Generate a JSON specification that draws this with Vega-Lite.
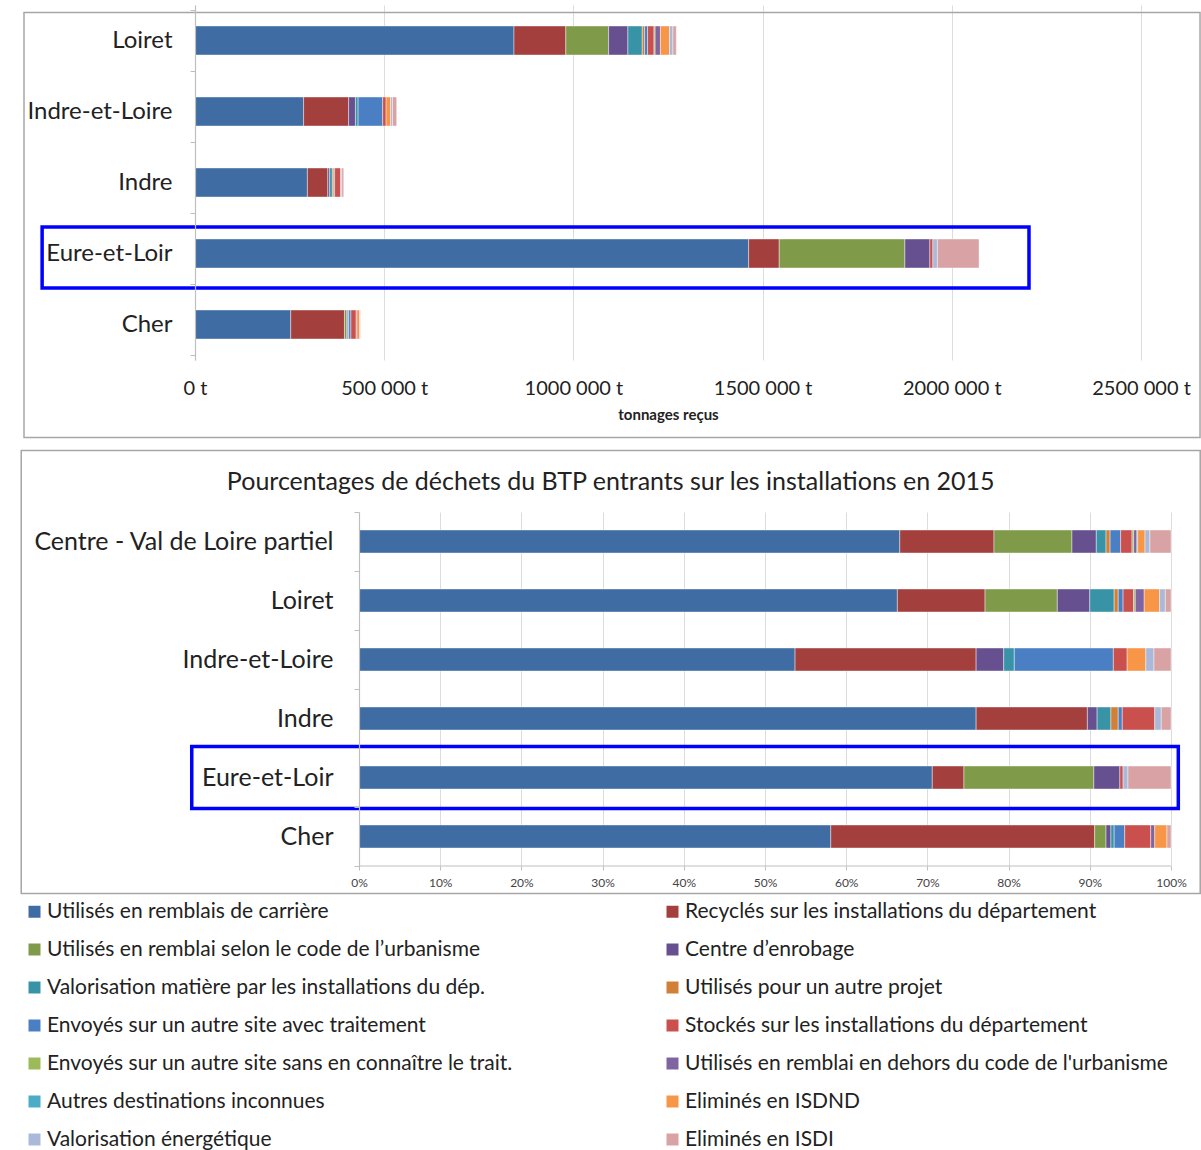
{
  "$schema": "https://vega.github.io/schema/vega-lite/v6.json",
  "background": "white",
  "padding": {"left": 20, "top": -7, "right": 2, "bottom": 4},
  "config": {
    "font": "Lato",
    "view": {"stroke": null},
    "axis": {"labelColor": "#222222", "titleColor": "#222222", "domainColor": "#bfbfbf", "tickColor": "#bfbfbf", "gridColor": "#dcdcdc"}
  },
  "datasets": {
    "tonnages": [
      {"departement": "Loiret", "categorie": "Utilisés en remblais de carrière", "tonnage": 843000},
      {"departement": "Loiret", "categorie": "Recyclés sur les installations du département", "tonnage": 137000},
      {"departement": "Loiret", "categorie": "Utilisés en remblai selon le code de l’urbanisme", "tonnage": 113000},
      {"departement": "Loiret", "categorie": "Centre d’enrobage", "tonnage": 51000},
      {"departement": "Loiret", "categorie": "Valorisation matière par les installations du dép.", "tonnage": 38000},
      {"departement": "Loiret", "categorie": "Utilisés pour un autre projet", "tonnage": 6000},
      {"departement": "Loiret", "categorie": "Envoyés sur un autre site avec traitement", "tonnage": 8000},
      {"departement": "Loiret", "categorie": "Stockés sur les installations du département", "tonnage": 17000},
      {"departement": "Loiret", "categorie": "Envoyés sur un autre site sans en connaître le trait.", "tonnage": 3000},
      {"departement": "Loiret", "categorie": "Utilisés en remblai en dehors du code de l'urbanisme", "tonnage": 14000},
      {"departement": "Loiret", "categorie": "Eliminés en ISDND", "tonnage": 24000},
      {"departement": "Loiret", "categorie": "Valorisation énergétique", "tonnage": 9000},
      {"departement": "Loiret", "categorie": "Eliminés en ISDI", "tonnage": 9000},
      {"departement": "Indre-et-Loire", "categorie": "Utilisés en remblais de carrière", "tonnage": 287000},
      {"departement": "Indre-et-Loire", "categorie": "Recyclés sur les installations du département", "tonnage": 119000},
      {"departement": "Indre-et-Loire", "categorie": "Centre d’enrobage", "tonnage": 18000},
      {"departement": "Indre-et-Loire", "categorie": "Valorisation matière par les installations du dép.", "tonnage": 7000},
      {"departement": "Indre-et-Loire", "categorie": "Envoyés sur un autre site avec traitement", "tonnage": 65000},
      {"departement": "Indre-et-Loire", "categorie": "Stockés sur les installations du département", "tonnage": 9000},
      {"departement": "Indre-et-Loire", "categorie": "Eliminés en ISDND", "tonnage": 12000},
      {"departement": "Indre-et-Loire", "categorie": "Valorisation énergétique", "tonnage": 5000},
      {"departement": "Indre-et-Loire", "categorie": "Eliminés en ISDI", "tonnage": 11000},
      {"departement": "Indre", "categorie": "Utilisés en remblais de carrière", "tonnage": 297000},
      {"departement": "Indre", "categorie": "Recyclés sur les installations du département", "tonnage": 54000},
      {"departement": "Indre", "categorie": "Centre d’enrobage", "tonnage": 5000},
      {"departement": "Indre", "categorie": "Valorisation matière par les installations du dép.", "tonnage": 7000},
      {"departement": "Indre", "categorie": "Utilisés pour un autre projet", "tonnage": 4000},
      {"departement": "Indre", "categorie": "Envoyés sur un autre site avec traitement", "tonnage": 2000},
      {"departement": "Indre", "categorie": "Stockés sur les installations du département", "tonnage": 16000},
      {"departement": "Indre", "categorie": "Valorisation énergétique", "tonnage": 3000},
      {"departement": "Indre", "categorie": "Eliminés en ISDI", "tonnage": 5000},
      {"departement": "Eure-et-Loir", "categorie": "Utilisés en remblais de carrière", "tonnage": 1463000},
      {"departement": "Eure-et-Loir", "categorie": "Recyclés sur les installations du département", "tonnage": 81000},
      {"departement": "Eure-et-Loir", "categorie": "Utilisés en remblai selon le code de l’urbanisme", "tonnage": 332000},
      {"departement": "Eure-et-Loir", "categorie": "Centre d’enrobage", "tonnage": 66000},
      {"departement": "Eure-et-Loir", "categorie": "Stockés sur les installations du département", "tonnage": 8000},
      {"departement": "Eure-et-Loir", "categorie": "Valorisation énergétique", "tonnage": 12000},
      {"departement": "Eure-et-Loir", "categorie": "Eliminés en ISDI", "tonnage": 110000},
      {"departement": "Cher", "categorie": "Utilisés en remblais de carrière", "tonnage": 253000},
      {"departement": "Cher", "categorie": "Recyclés sur les installations du département", "tonnage": 142000},
      {"departement": "Cher", "categorie": "Utilisés en remblai selon le code de l’urbanisme", "tonnage": 6000},
      {"departement": "Cher", "categorie": "Centre d’enrobage", "tonnage": 3000},
      {"departement": "Cher", "categorie": "Valorisation matière par les installations du dép.", "tonnage": 2000},
      {"departement": "Cher", "categorie": "Envoyés sur un autre site avec traitement", "tonnage": 6000},
      {"departement": "Cher", "categorie": "Stockés sur les installations du département", "tonnage": 14000},
      {"departement": "Cher", "categorie": "Utilisés en remblai en dehors du code de l'urbanisme", "tonnage": 2000},
      {"departement": "Cher", "categorie": "Eliminés en ISDND", "tonnage": 7000},
      {"departement": "Cher", "categorie": "Eliminés en ISDI", "tonnage": 2000}
    ],
    "pourcentages": [
      {"departement": "Centre - Val de Loire partiel", "categorie": "Utilisés en remblais de carrière", "pourcentage": 66.6},
      {"departement": "Centre - Val de Loire partiel", "categorie": "Recyclés sur les installations du département", "pourcentage": 11.6},
      {"departement": "Centre - Val de Loire partiel", "categorie": "Utilisés en remblai selon le code de l’urbanisme", "pourcentage": 9.6},
      {"departement": "Centre - Val de Loire partiel", "categorie": "Centre d’enrobage", "pourcentage": 3.0},
      {"departement": "Centre - Val de Loire partiel", "categorie": "Valorisation matière par les installations du dép.", "pourcentage": 1.2},
      {"departement": "Centre - Val de Loire partiel", "categorie": "Utilisés pour un autre projet", "pourcentage": 0.5},
      {"departement": "Centre - Val de Loire partiel", "categorie": "Envoyés sur un autre site avec traitement", "pourcentage": 1.3},
      {"departement": "Centre - Val de Loire partiel", "categorie": "Stockés sur les installations du département", "pourcentage": 1.4},
      {"departement": "Centre - Val de Loire partiel", "categorie": "Envoyés sur un autre site sans en connaître le trait.", "pourcentage": 0.2},
      {"departement": "Centre - Val de Loire partiel", "categorie": "Utilisés en remblai en dehors du code de l'urbanisme", "pourcentage": 0.4},
      {"departement": "Centre - Val de Loire partiel", "categorie": "Autres destinations inconnues", "pourcentage": 0.1},
      {"departement": "Centre - Val de Loire partiel", "categorie": "Eliminés en ISDND", "pourcentage": 0.9},
      {"departement": "Centre - Val de Loire partiel", "categorie": "Valorisation énergétique", "pourcentage": 0.6},
      {"departement": "Centre - Val de Loire partiel", "categorie": "Eliminés en ISDI", "pourcentage": 2.6},
      {"departement": "Loiret", "categorie": "Utilisés en remblais de carrière", "pourcentage": 66.3},
      {"departement": "Loiret", "categorie": "Recyclés sur les installations du département", "pourcentage": 10.8},
      {"departement": "Loiret", "categorie": "Utilisés en remblai selon le code de l’urbanisme", "pourcentage": 8.9},
      {"departement": "Loiret", "categorie": "Centre d’enrobage", "pourcentage": 4.0},
      {"departement": "Loiret", "categorie": "Valorisation matière par les installations du dép.", "pourcentage": 3.0},
      {"departement": "Loiret", "categorie": "Utilisés pour un autre projet", "pourcentage": 0.5},
      {"departement": "Loiret", "categorie": "Envoyés sur un autre site avec traitement", "pourcentage": 0.6},
      {"departement": "Loiret", "categorie": "Stockés sur les installations du département", "pourcentage": 1.3},
      {"departement": "Loiret", "categorie": "Envoyés sur un autre site sans en connaître le trait.", "pourcentage": 0.2},
      {"departement": "Loiret", "categorie": "Utilisés en remblai en dehors du code de l'urbanisme", "pourcentage": 1.1},
      {"departement": "Loiret", "categorie": "Eliminés en ISDND", "pourcentage": 1.9},
      {"departement": "Loiret", "categorie": "Valorisation énergétique", "pourcentage": 0.7},
      {"departement": "Loiret", "categorie": "Eliminés en ISDI", "pourcentage": 0.7},
      {"departement": "Indre-et-Loire", "categorie": "Utilisés en remblais de carrière", "pourcentage": 53.7},
      {"departement": "Indre-et-Loire", "categorie": "Recyclés sur les installations du département", "pourcentage": 22.3},
      {"departement": "Indre-et-Loire", "categorie": "Centre d’enrobage", "pourcentage": 3.4},
      {"departement": "Indre-et-Loire", "categorie": "Valorisation matière par les installations du dép.", "pourcentage": 1.3},
      {"departement": "Indre-et-Loire", "categorie": "Envoyés sur un autre site avec traitement", "pourcentage": 12.2},
      {"departement": "Indre-et-Loire", "categorie": "Stockés sur les installations du département", "pourcentage": 1.7},
      {"departement": "Indre-et-Loire", "categorie": "Eliminés en ISDND", "pourcentage": 2.3},
      {"departement": "Indre-et-Loire", "categorie": "Valorisation énergétique", "pourcentage": 1.0},
      {"departement": "Indre-et-Loire", "categorie": "Eliminés en ISDI", "pourcentage": 2.1},
      {"departement": "Indre", "categorie": "Utilisés en remblais de carrière", "pourcentage": 76.0},
      {"departement": "Indre", "categorie": "Recyclés sur les installations du département", "pourcentage": 13.7},
      {"departement": "Indre", "categorie": "Centre d’enrobage", "pourcentage": 1.2},
      {"departement": "Indre", "categorie": "Valorisation matière par les installations du dép.", "pourcentage": 1.7},
      {"departement": "Indre", "categorie": "Utilisés pour un autre projet", "pourcentage": 0.9},
      {"departement": "Indre", "categorie": "Envoyés sur un autre site avec traitement", "pourcentage": 0.5},
      {"departement": "Indre", "categorie": "Stockés sur les installations du département", "pourcentage": 4.0},
      {"departement": "Indre", "categorie": "Valorisation énergétique", "pourcentage": 0.8},
      {"departement": "Indre", "categorie": "Eliminés en ISDI", "pourcentage": 1.2},
      {"departement": "Eure-et-Loir", "categorie": "Utilisés en remblais de carrière", "pourcentage": 70.6},
      {"departement": "Eure-et-Loir", "categorie": "Recyclés sur les installations du département", "pourcentage": 3.9},
      {"departement": "Eure-et-Loir", "categorie": "Utilisés en remblai selon le code de l’urbanisme", "pourcentage": 16.0},
      {"departement": "Eure-et-Loir", "categorie": "Centre d’enrobage", "pourcentage": 3.2},
      {"departement": "Eure-et-Loir", "categorie": "Stockés sur les installations du département", "pourcentage": 0.4},
      {"departement": "Eure-et-Loir", "categorie": "Valorisation énergétique", "pourcentage": 0.6},
      {"departement": "Eure-et-Loir", "categorie": "Eliminés en ISDI", "pourcentage": 5.3},
      {"departement": "Cher", "categorie": "Utilisés en remblais de carrière", "pourcentage": 58.1},
      {"departement": "Cher", "categorie": "Recyclés sur les installations du département", "pourcentage": 32.5},
      {"departement": "Cher", "categorie": "Utilisés en remblai selon le code de l’urbanisme", "pourcentage": 1.4},
      {"departement": "Cher", "categorie": "Centre d’enrobage", "pourcentage": 0.6},
      {"departement": "Cher", "categorie": "Valorisation matière par les installations du dép.", "pourcentage": 0.4},
      {"departement": "Cher", "categorie": "Envoyés sur un autre site avec traitement", "pourcentage": 1.3},
      {"departement": "Cher", "categorie": "Stockés sur les installations du département", "pourcentage": 3.2},
      {"departement": "Cher", "categorie": "Utilisés en remblai en dehors du code de l'urbanisme", "pourcentage": 0.5},
      {"departement": "Cher", "categorie": "Eliminés en ISDND", "pourcentage": 1.5},
      {"departement": "Cher", "categorie": "Eliminés en ISDI", "pourcentage": 0.5}
    ]
  },
  "spacing": 10,
  "vconcat": [
    {
      "width": 946,
      "height": 355,
      "layer": [
        {
          "data": {"values": [{"departement": "Indre"}]},
          "mark": {"type": "rect", "fill": null, "stroke": "#a6a6a6", "strokeWidth": 1.5, "clip": false, "height": 425, "yOffset": 42.5},
          "encoding": {
            "y": {"field": "departement", "type": "nominal", "sort": ["Loiret", "Indre-et-Loire", "Indre", "Eure-et-Loir", "Cher"]},
            "x": {"datum": -451900},
            "x2": {"datum": 2656000}
          }
        },
        {
          "data": {"name": "tonnages"},
          "transform": [
            {"calculate": "indexof([\"Utilisés en remblais de carrière\", \"Recyclés sur les installations du département\", \"Utilisés en remblai selon le code de l’urbanisme\", \"Centre d’enrobage\", \"Valorisation matière par les installations du dép.\", \"Utilisés pour un autre projet\", \"Envoyés sur un autre site avec traitement\", \"Stockés sur les installations du département\", \"Envoyés sur un autre site sans en connaître le trait.\", \"Utilisés en remblai en dehors du code de l'urbanisme\", \"Autres destinations inconnues\", \"Eliminés en ISDND\", \"Valorisation énergétique\", \"Eliminés en ISDI\"], datum.categorie)", "as": "rang"}
          ],
          "mark": {"type": "bar", "size": 29, "stroke": "#ffffff", "strokeWidth": 0.6, "strokeOpacity": 0.7},
          "encoding": {
            "y": {
              "field": "departement", "type": "nominal",
              "sort": ["Loiret", "Indre-et-Loire", "Indre", "Eure-et-Loir", "Cher"],
              "scale": {"paddingInner": 0.14, "paddingOuter": 0.07},
              "axis": {"title": null, "labelFontSize": 24, "labelPadding": 18, "labelLimit": 400, "tickBand": "extent", "tickSize": 5, "domainWidth": 1.2}
            },
            "x": {
              "field": "tonnage", "type": "quantitative", "stack": "zero",
              "scale": {"domain": [0, 2500000], "nice": false},
              "axis": {
                "title": "tonnages reçus", "titleFontSize": 15, "titleFontWeight": "bold", "titlePadding": 9,
                "values": [0, 500000, 1000000, 1500000, 2000000, 2500000],
                "labelExpr": "datum.value == 0 ? '0 t' : format(datum.value / 1000, 'd') + ' 000 t'",
                "labelFontSize": 20, "labelPadding": 18, "labelFlush": false, "domain": false, "ticks": false, "grid": true
              }
            },
            "order": {"field": "rang", "type": "quantitative"},
            "color": {
              "field": "categorie", "type": "nominal",
              "scale": {
                "domain": ["Utilisés en remblais de carrière", "Utilisés en remblai selon le code de l’urbanisme", "Valorisation matière par les installations du dép.", "Envoyés sur un autre site avec traitement", "Envoyés sur un autre site sans en connaître le trait.", "Autres destinations inconnues", "Valorisation énergétique", "Recyclés sur les installations du département", "Centre d’enrobage", "Utilisés pour un autre projet", "Stockés sur les installations du département", "Utilisés en remblai en dehors du code de l'urbanisme", "Eliminés en ISDND", "Eliminés en ISDI"],
                "range": ["#3f6ca3", "#7f9a48", "#3893a7", "#4a80c3", "#9bbb59", "#4bacc6", "#aab9d9", "#a3403d", "#67508f", "#d27f37", "#c9504c", "#8064a2", "#f79646", "#d9a3a5"]
              },
              "legend": {
                "title": null, "orient": "none", "legendX": -171, "legendY": 896, "columns": 2, "columnPadding": 149,
                "symbolType": "square", "symbolSize": 144, "symbolStrokeWidth": 0, "labelFontSize": 21, "labelColor": "#222222",
                "labelLimit": 700, "rowPadding": 16, "labelOffset": 2
              }
            }
          }
        },
        {
          "data": {"values": [{"departement": "Eure-et-Loir"}]},
          "mark": {"type": "rect", "fill": null, "stroke": "#0000ff", "strokeWidth": 3.5, "clip": false, "yOffset": 4},
          "encoding": {
            "y": {"field": "departement", "type": "nominal", "sort": ["Loiret", "Indre-et-Loire", "Indre", "Eure-et-Loir", "Cher"]},
            "x": {"datum": -404000},
            "x2": {"datum": 2204000}
          }
        }
      ]
    },
    {
      "width": 976,
      "height": 354,
      "title": {"text": "Pourcentages de déchets du BTP entrants sur les installations en 2015", "fontSize": 25, "fontWeight": "normal", "color": "#222222", "frame": "bounds", "anchor": "middle", "offset": -45},
      "layer": [
        {
          "data": {"values": [{"departement": "Indre-et-Loire"}]},
          "mark": {"type": "rect", "fill": null, "stroke": "#a6a6a6", "strokeWidth": 1.5, "clip": false, "height": 443, "yOffset": 12.5},
          "encoding": {
            "y": {"field": "departement", "type": "nominal", "sort": ["Centre - Val de Loire partiel", "Loiret", "Indre-et-Loire", "Indre", "Eure-et-Loir", "Cher"]},
            "x": {"datum": -41.6},
            "x2": {"datum": 103.6}
          }
        },
        {
          "data": {"name": "pourcentages"},
          "transform": [
            {"calculate": "indexof([\"Utilisés en remblais de carrière\", \"Recyclés sur les installations du département\", \"Utilisés en remblai selon le code de l’urbanisme\", \"Centre d’enrobage\", \"Valorisation matière par les installations du dép.\", \"Utilisés pour un autre projet\", \"Envoyés sur un autre site avec traitement\", \"Stockés sur les installations du département\", \"Envoyés sur un autre site sans en connaître le trait.\", \"Utilisés en remblai en dehors du code de l'urbanisme\", \"Autres destinations inconnues\", \"Eliminés en ISDND\", \"Valorisation énergétique\", \"Eliminés en ISDI\"], datum.categorie)", "as": "rang"}
          ],
          "mark": {"type": "bar", "size": 23, "stroke": "#ffffff", "strokeWidth": 0.6, "strokeOpacity": 0.7},
          "encoding": {
            "y": {
              "field": "departement", "type": "nominal",
              "sort": ["Centre - Val de Loire partiel", "Loiret", "Indre-et-Loire", "Indre", "Eure-et-Loir", "Cher"],
              "scale": {"paddingInner": 0, "paddingOuter": 0},
              "axis": {"title": null, "labelFontSize": 25, "labelPadding": 21, "labelLimit": 500, "offset": -164, "tickBand": "extent", "tickSize": 5, "domainWidth": 1.2}
            },
            "x": {
              "field": "pourcentage", "type": "quantitative", "stack": "zero",
              "scale": {"domain": [-20.2, 100], "nice": false, "zero": false},
              "axis": {
                "title": null, "values": [0, 10, 20, 30, 40, 50, 60, 70, 80, 90, 100],
                "labelExpr": "datum.value + '%'", "labelFontSize": 12, "labelColor": "#444444",
                "labelPadding": 7, "labelFlush": false, "tickSize": 4, "domain": false, "grid": true
              }
            },
            "order": {"field": "rang", "type": "quantitative"},
            "color": {"field": "categorie", "type": "nominal"}
          }
        },
        {
          "data": {"values": [{"departement": "Cher"}]},
          "mark": {"type": "rule", "color": "#bfbfbf", "strokeWidth": 1.2},
          "encoding": {
            "y": {"field": "departement", "type": "nominal", "sort": ["Centre - Val de Loire partiel", "Loiret", "Indre-et-Loire", "Indre", "Eure-et-Loir", "Cher"], "bandPosition": 1},
            "x": {"datum": 0},
            "x2": {"datum": 100}
          }
        },
        {
          "data": {"values": [{"departement": "Eure-et-Loir"}]},
          "mark": {"type": "rect", "fill": null, "stroke": "#0000ff", "strokeWidth": 3.5, "clip": false, "height": 62},
          "encoding": {
            "y": {"field": "departement", "type": "nominal", "sort": ["Centre - Val de Loire partiel", "Loiret", "Indre-et-Loire", "Indre", "Eure-et-Loir", "Cher"]},
            "x": {"datum": -20.6},
            "x2": {"datum": 100.9}
          }
        }
      ]
    }
  ]
}
